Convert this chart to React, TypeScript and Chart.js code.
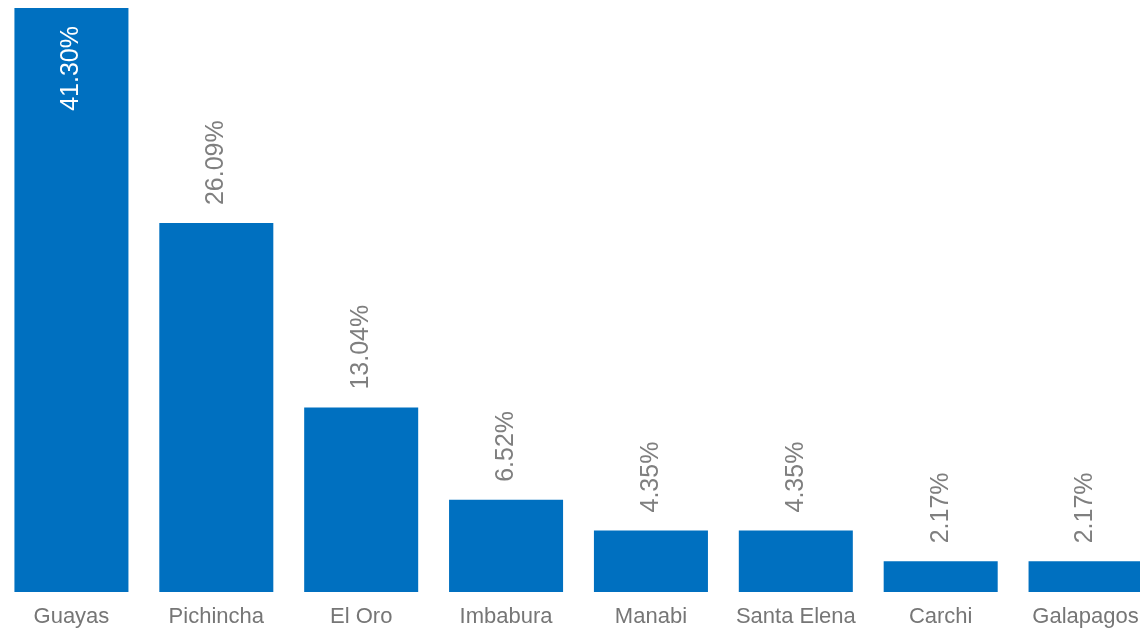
import React, { useEffect, useRef } from "react";
import { Chart, registerables } from "chart.js";

Chart.register(...registerables);

const categories = ["Guayas", "Pichincha", "El Oro", "Imbabura", "Manabi", "Santa Elena", "Carchi", "Galapagos"];
const values = [41.3, 26.09, 13.04, 6.52, 4.35, 4.35, 2.17, 2.17];

const BAR_COLOR = "#0070C0";
const FONT = "'Liberation Sans', Arial, sans-serif";

const labelPlugin = {
  id: "rotLabels",
  afterDatasetsDraw(chart: any) {
    const ctx = chart.ctx;
    const meta = chart.getDatasetMeta(0);
    const area = chart.chartArea;
    ctx.save();
    ctx.font = `25px ${FONT}`;
    meta.data.forEach((bar: any, i: number) => {
      const v = values[i];
      const text = v.toFixed(2) + "%";
      const w = ctx.measureText(text).width;
      const off = 18;
      ctx.save();
      if (bar.y - off - w < area.top) {
        ctx.translate(bar.x, bar.y + off);
        ctx.rotate(-Math.PI / 2);
        ctx.textAlign = "right";
        ctx.fillStyle = "#FFFFFF";
      } else {
        ctx.translate(bar.x, bar.y - off);
        ctx.rotate(-Math.PI / 2);
        ctx.textAlign = "left";
        ctx.fillStyle = "#7F7F7F";
      }
      ctx.textBaseline = "middle";
      ctx.fillText(text, 0, 0);
      ctx.restore();
    });
    ctx.restore();
  },
};

export default function App() {
  const ref = useRef<HTMLCanvasElement | null>(null);
  useEffect(() => {
    if (!ref.current) return;
    const chart = new Chart(ref.current, {
      type: "bar",
      data: {
        labels: categories,
        datasets: [
          {
            data: values,
            backgroundColor: BAR_COLOR,
            categoryPercentage: 1,
            barPercentage: 0.787,
          },
        ],
      },
      options: {
        animation: false,
        responsive: false,
        maintainAspectRatio: false,
        layout: { padding: { top: 8, left: 0, right: 0, bottom: 0 } },
        plugins: { legend: { display: false }, tooltip: { enabled: false } },
        scales: {
          x: {
            grid: { display: false, drawTicks: false },
            border: { display: false },
            ticks: {
              color: "#767676",
              font: { family: FONT, size: 22 },
              padding: 12,
              maxRotation: 0,
              autoSkip: false,
            },
            afterFit(scale: any) {
              scale.height = 37;
            },
          },
          y: {
            display: false,
            min: 0,
            max: 41.3,
          },
        },
      },
      plugins: [labelPlugin],
    });
    return () => chart.destroy();
  }, []);
  return (
    <div style={{ position: "fixed", left: 0, top: 0, width: 1140, height: 629, overflow: "hidden", background: "#fff" }}>
      <canvas ref={ref} width={1159} height={629} style={{ position: "absolute", left: -1.5, top: 0, width: 1159, height: 629 }} />
    </div>
  );
}
